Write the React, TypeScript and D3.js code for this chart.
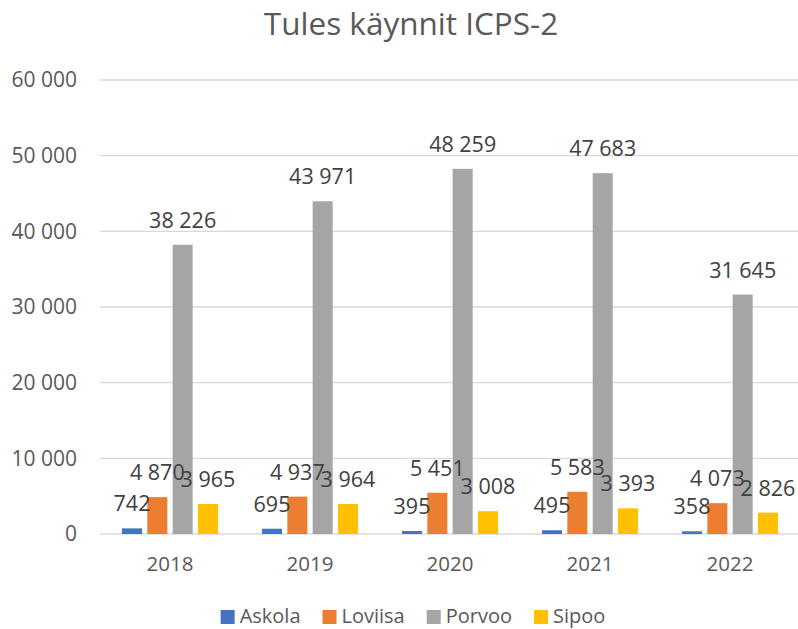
import React, { useEffect, useRef } from 'react';
import * as d3 from 'd3';

const years = ['2018', '2019', '2020', '2021', '2022'];
const seriesNames = ['Askola', 'Loviisa', 'Porvoo', 'Sipoo'];
const askola = [742, 695, 395, 495, 358];
const loviisa = [4870, 4937, 5451, 5583, 4073];
const porvoo = [38226, 43971, 48259, 47683, 31645];
const sipoo = [3965, 3964, 3008, 3393, 2826];
const yTicks = [0, 10000, 20000, 30000, 40000, 50000, 60000];
const colors = ['#4472C4', '#ED7D31', '#A5A5A5', '#FFC000'];

const W = 798;
const H = 629;
const FONT = '"Open Sans", sans-serif';
const TEXT = '#595959';

function fmt(v: number) {
  // space as thousands separator
  return d3.format(',')(v).replace(/,/g, ' ');
}

function drawChart(container: HTMLDivElement) {
  d3.select(container).selectAll('*').remove();

  const svg = d3.select(container).append('svg')
    .attr('width', W)
    .attr('height', H)
    .style('display', 'block')
    .style('background', '#fff')
    .style('font-family', FONT);

  const values = [askola, loviisa, porvoo, sipoo];

  const x0 = d3.scaleBand<string>()
    .domain(years)
    .range([100, 800])
    .paddingInner(0.3143)
    .paddingOuter(0.1571);

  const x1 = d3.scaleBand<string>()
    .domain(seriesNames)
    .range([0, x0.bandwidth()])
    .paddingInner(0.21);

  const y = d3.scaleLinear()
    .domain([0, 60000])
    .range([534, 80]);

  // Title
  svg.append('text')
    .attr('x', 411)
    .attr('y', 35)
    .attr('text-anchor', 'middle')
    .attr('fill', TEXT)
    .style('font-size', '31.5px')
    .text('Tules käynnit ICPS-2');

  // Grid lines
  svg.selectAll('.grid')
    .data(yTicks)
    .enter().append('line')
    .attr('x1', 100)
    .attr('x2', W)
    .attr('y1', d => y(d))
    .attr('y2', d => y(d))
    .attr('stroke', '#D9D9D9')
    .attr('stroke-width', 1.3);

  // Y labels
  svg.selectAll('.ylab')
    .data(yTicks)
    .enter().append('text')
    .attr('x', 77)
    .attr('y', d => y(d))
    .attr('dy', '0.35em')
    .attr('text-anchor', 'end')
    .attr('fill', TEXT)
    .style('font-size', '21px')
    .text(d => fmt(d));

  // Bars
  const groups = svg.selectAll('.year')
    .data(years)
    .enter().append('g')
    .attr('transform', d => `translate(${x0(d)},0)`);

  seriesNames.forEach((name, si) => {
    groups.append('rect')
      .attr('x', x1(name)!)
      .attr('width', x1.bandwidth())
      .attr('y', (d, i) => y(values[si][i]))
      .attr('height', (d, i) => y(0) - y(values[si][i]))
      .attr('fill', colors[si]);
  });

  // Data labels
  seriesNames.forEach((name, si) => {
    groups.append('text')
      .attr('x', x1(name)! + x1.bandwidth() / 2)
      .attr('y', (d, i) => y(values[si][i]) - 17)
      .attr('text-anchor', 'middle')
      .attr('fill', '#404040')
      .style('font-size', '21.5px')
      .text((d, i) => fmt(values[si][i]));
  });

  // X labels
  svg.selectAll('.xlab')
    .data(years)
    .enter().append('text')
    .attr('x', d => x0(d)! + x0.bandwidth() / 2)
    .attr('y', 571)
    .attr('text-anchor', 'middle')
    .attr('fill', TEXT)
    .style('font-size', '20.5px')
    .text(d => d);

  // Legend
  const legend = svg.append('g');
  let lx = 0;
  seriesNames.forEach((name, si) => {
    const item = legend.append('g').attr('transform', `translate(${lx},0)`);
    item.append('rect')
      .attr('x', 0)
      .attr('y', 610)
      .attr('width', 14)
      .attr('height', 14)
      .attr('fill', colors[si]);
    const t = item.append('text')
      .attr('x', 19)
      .attr('y', 623)
      .attr('fill', TEXT)
      .style('font-size', '20px')
      .text(name);
    const tw = (t.node() as SVGTextElement).getComputedTextLength();
    lx += 19 + tw + 22;
  });
  const totalW = lx - 22;
  legend.attr('transform', `translate(${(W - totalW) / 2 + 14},0)`);
}

const App = () => {
  const ref = useRef<HTMLDivElement>(null);
  useEffect(() => {
    if (ref.current) drawChart(ref.current);
  }, []);
  return <div ref={ref} style={{ position: 'absolute', left: 0, top: 0 }} />;
};

export default App;
